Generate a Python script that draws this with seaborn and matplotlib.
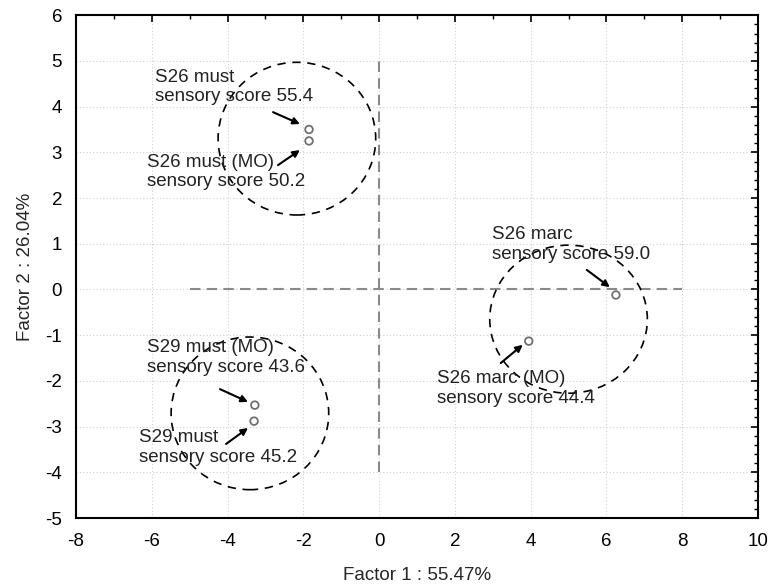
import matplotlib
matplotlib.use("Agg")
import matplotlib.pyplot as plt
import seaborn as sns
import pandas as pd
from matplotlib.patches import Ellipse
from matplotlib.ticker import MultipleLocator

# sample scores in factor space
samples = ["S26 must", "S26 must (MO)", "S26 marc", "S26 marc (MO)", "S29 must (MO)", "S29 must"]
factor1 = [-1.85, -1.85, 6.25, 3.95, -3.28, -3.3]
factor2 = [3.5, 3.25, -0.12, -1.13, -2.53, -2.88]
scores = ["55.4", "50.2", "59.0", "44.4", "43.6", "45.2"]

# label anchor (left, middle of the two lines) and arrow start/end
label_x = [-5.92, -6.13, 2.98, 1.53, -6.13, -6.33]
label_y = [4.43, 2.57, 0.98, -2.16, -1.49, -3.46]
arrow_from = [(-2.8, 3.88), (-2.67, 2.72), (5.48, 0.43), (3.21, -1.61), (-4.2, -2.18), (-4.04, -3.38)]
arrow_to = [(-2.09, 3.62), (-2.09, 3.05), (6.09, 0.05), (3.79, -1.21), (-3.46, -2.46), (-3.46, -3.03)]

# grouping circles: center x, center y, width, height
group_cx = [-2.17, 5.0, -3.41]
group_cy = [3.3, -0.65, -2.71]
group_w = [4.16, 4.16, 4.16]
group_h = [3.34, 3.24, 3.34]

df = pd.DataFrame({"sample": samples, "f1": factor1, "f2": factor2})

sns.set_style("white")
plt.rcParams["font.family"] = ["Liberation Sans", "DejaVu Sans"]
plt.rcParams["axes.unicode_minus"] = False

fig = plt.figure(figsize=(7.71, 5.86), dpi=100)
ax = fig.add_axes([0.0986, 0.116, 0.8845, 0.858])

ax.set_xlim(-8, 10)
ax.set_ylim(-5, 6)
ax.xaxis.set_major_locator(MultipleLocator(2))
ax.xaxis.set_minor_locator(MultipleLocator(1))
ax.yaxis.set_major_locator(MultipleLocator(1))
ax.yaxis.set_minor_locator(MultipleLocator(0.2))
ax.grid(True, which="major", color="#d0d0d0", linestyle=(0, (1, 2)), linewidth=0.8)
ax.set_axisbelow(True)

# reference axes through origin
ax.plot([-5, 8], [0, 0], color="#8a8a8a", lw=1.5, dashes=(5, 3), zorder=2)
ax.plot([0, 0], [-4, 5], color="#8a8a8a", lw=1.5, dashes=(5, 3), zorder=2)

sns.scatterplot(data=df, x="f1", y="f2", ax=ax, marker="o", s=30,
                facecolor="none", edgecolor="#707070", linewidth=1.3, zorder=4, legend=False)

for cx, cy, w, h in zip(group_cx, group_cy, group_w, group_h):
    ax.add_patch(Ellipse((cx, cy), w, h, fill=False, edgecolor="black",
                         lw=1.2, linestyle=(0, (5, 4)), zorder=3))

for name, sc, lx, ly, a0, a1 in zip(samples, scores, label_x, label_y, arrow_from, arrow_to):
    ax.text(lx, ly, f"{name}\nsensory score {sc}", ha="left", va="center",
            fontsize=13.5, color="#222222", zorder=5)
    ax.annotate("", xy=a1, xytext=a0,
                arrowprops=dict(arrowstyle="-|>", color="black", lw=1.5, mutation_scale=10,
                                shrinkA=0, shrinkB=0), zorder=5)

for side in ["top", "right", "bottom", "left"]:
    ax.spines[side].set_visible(True)
    ax.spines[side].set_color("black")
    ax.spines[side].set_linewidth(1.5)
ax.tick_params(which="both", direction="in", top=True, right=True, colors="black", labelsize=13.5)
ax.tick_params(which="major", length=5, width=1.2)
ax.tick_params(which="minor", length=3, width=1)
ax.tick_params(axis="x", pad=11)
ax.tick_params(axis="y", pad=10)

ax.set_xlabel("Factor 1 : 55.47%", fontsize=13.5, labelpad=12)
ax.set_ylabel("Factor 2 : 26.04%", fontsize=13.5, labelpad=8)

fig.savefig("out.png", dpi=100)
